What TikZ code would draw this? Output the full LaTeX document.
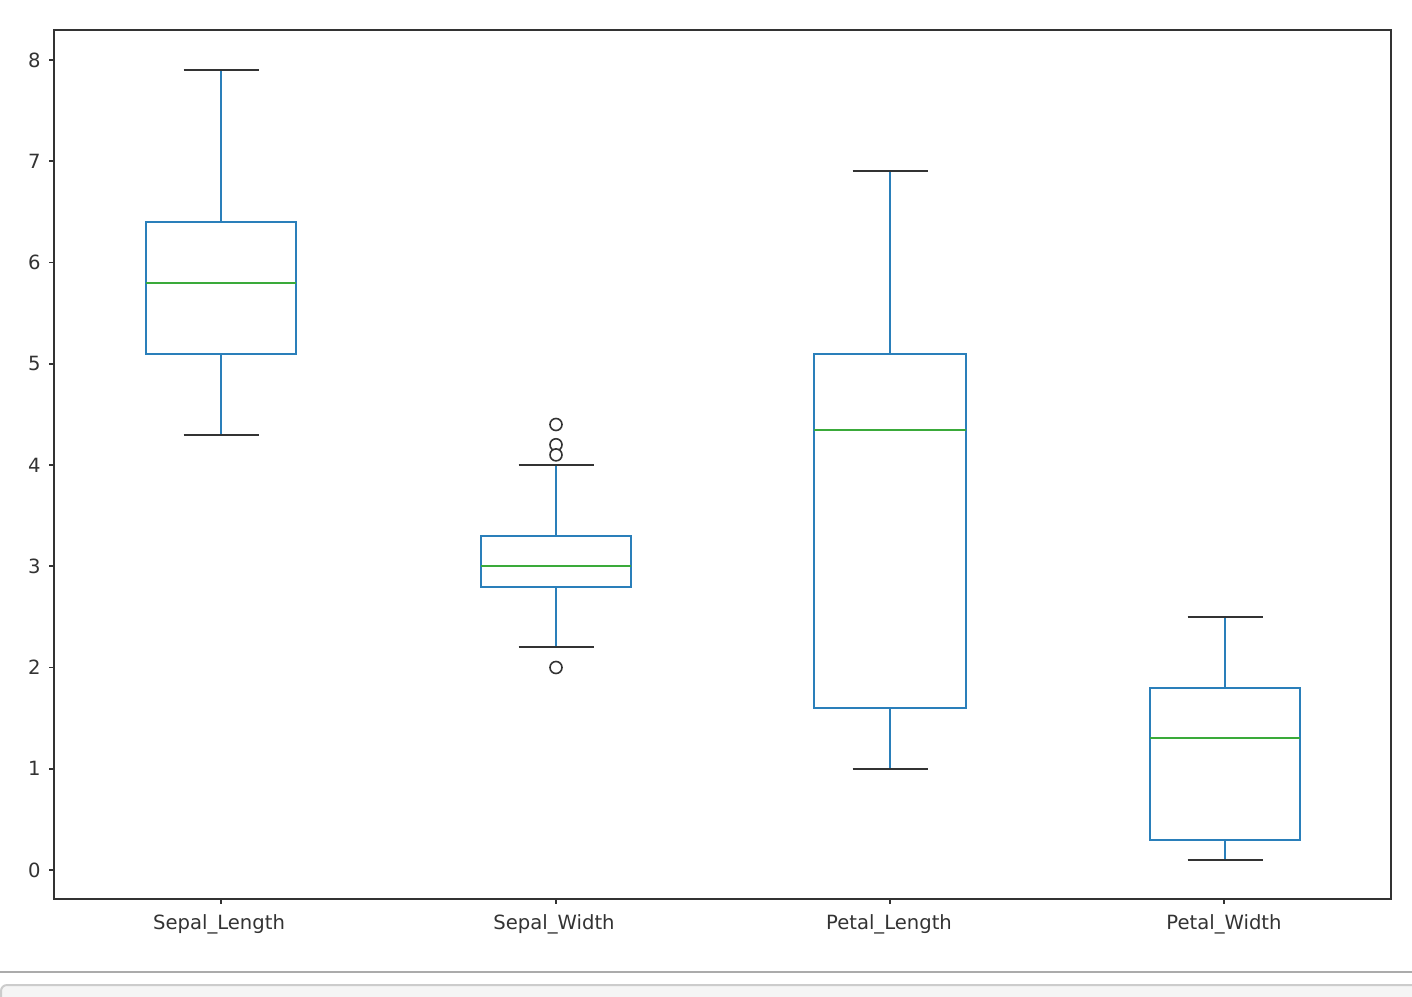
\documentclass[tikz,border=0pt]{standalone}
\usepackage{fontspec}
\setmainfont{DejaVu Sans}
\definecolor{boxblue}{HTML}{2A7FBA}
\definecolor{medgreen}{HTML}{3AAA3A}
\definecolor{axgray}{HTML}{333333}
\begin{document}
\begin{tikzpicture}[x=0.5pt,y=-0.5pt,
  boxc/.style={draw=boxblue,line width=1pt},
  whisk/.style={draw=boxblue,line width=1pt},
  medc/.style={draw=medgreen,line width=1pt},
  capc/.style={draw=axgray,line width=1pt},
  flier/.style={draw=axgray,line width=0.8pt,fill=white},
  frame/.style={draw=axgray,line width=0.8pt},
  tick/.style={draw=axgray,line width=0.8pt},
  lab/.style={text=axgray,font=\fontsize{9.8}{12}\selectfont,inner sep=0pt}]
\useasboundingbox (0,0) rectangle (1412,996);
\fill[white] (0,0) rectangle (1412,996);
% bottom notebook separator and bar
\draw[draw=black!33,line width=1pt] (0,972) -- (1412,972);
\draw[draw=black!20,fill=black!4,line width=1pt,rounded corners=3pt] (1,1005) -- (1,985) -- (1420,985) -- (1420,1005);
% axes frame
\draw[frame] (54,30) rectangle (1391,899);
\begin{scope}[shift={(0,870)},y={(0,50.625pt)}]
  % y ticks
  \foreach \v in {0,...,8} {
    \draw[tick] (49,\v) -- (54,\v);
    \node[lab,anchor=east] (yl\v) at (41,\v) {\v};
  }
  % x ticks
  \foreach \c in {221,556,890,1224} {
    \draw[tick] (\c,-0.286) -- (\c,-0.336);
  }
  % Sepal_Length
  \draw[whisk] (221,4.3) -- (221,5.1) (221,6.4) -- (221,7.9);
  \draw[capc] (183.5,4.3) -- (258.5,4.3) (183.5,7.9) -- (258.5,7.9);
  \draw[boxc] (146,5.1) rectangle (296,6.4);
  \draw[medc] (146,5.8) -- (296,5.8);
  % Sepal_Width
  \draw[whisk] (556,2.2) -- (556,2.8) (556,3.3) -- (556,4.0);
  \draw[capc] (518.5,2.2) -- (593.5,2.2) (518.5,4.0) -- (593.5,4.0);
  \draw[boxc] (481,2.8) rectangle (631,3.3);
  \draw[medc] (481,3.0) -- (631,3.0);
  \foreach \v in {4.4,4.2,4.1,2.0} \draw[flier] (556,\v) circle[radius=3pt];
  % Petal_Length
  \draw[whisk] (890,1.0) -- (890,1.6) (890,5.1) -- (890,6.9);
  \draw[capc] (852.5,1.0) -- (927.5,1.0) (852.5,6.9) -- (927.5,6.9);
  \draw[boxc] (814,1.6) rectangle (966,5.1);
  \draw[medc] (814,4.35) -- (966,4.35);
  % Petal_Width
  \draw[whisk] (1225,0.1) -- (1225,0.3) (1225,1.8) -- (1225,2.5);
  \draw[capc] (1187.5,0.1) -- (1262.5,0.1) (1187.5,2.5) -- (1262.5,2.5);
  \draw[boxc] (1150,0.3) rectangle (1300,1.8);
  \draw[medc] (1150,1.3) -- (1300,1.3);
\end{scope}
\node[lab] (xa) at (219,924) {Sepal\_Length};
\node[lab] (xb) at (554,924) {Sepal\_Width};
\node[lab] (xc) at (889,924) {Petal\_Length};
\node[lab] (xd) at (1224,924) {Petal\_Width};
\end{tikzpicture}
\end{document}
